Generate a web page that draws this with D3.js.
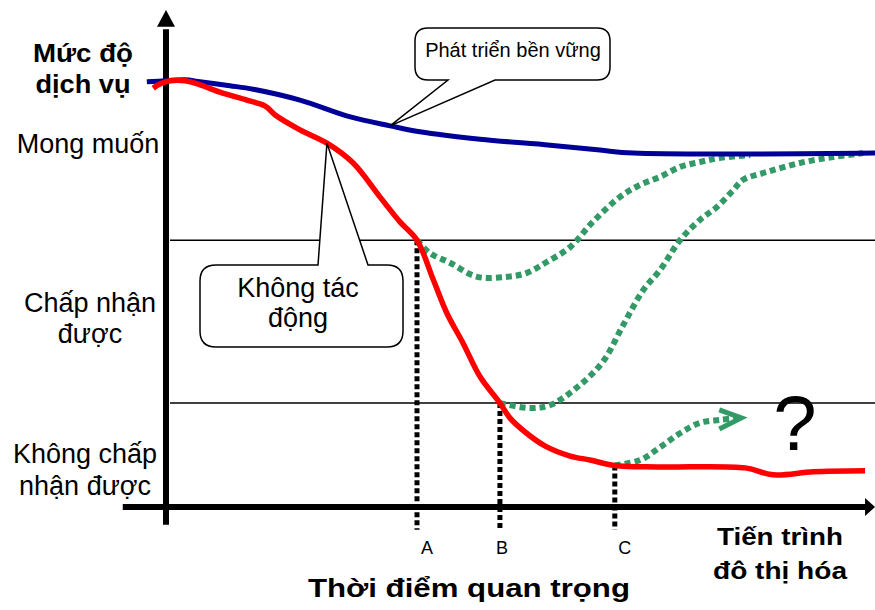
<!DOCTYPE html>
<html>
<head>
<meta charset="utf-8">
<script src="https://cdn.jsdelivr.net/npm/d3@7"></script>
<style>
  body { margin: 0; background: #fff; }
  svg { display: block; }
  text { font-family: "Liberation Sans", Arial, sans-serif; fill: #000; }
</style>
</head>
<body>
<svg id="chart" width="875" height="610"></svg>
<script>
// Urbanisation progress (x) and service level (y), both on a 0–100 scale.

// "Phát triển bền vững" – sustainable development path
const sustainableT = [-2.7, 0, 2.7, 4.8, 9.0, 12.3, 18.9, 26.0, 31.6, 35.8, 44.3, 54.2, 61.2, 65.9, 100];
const sustainableV = [85.9, 86.1, 86.3, 85.9, 85.1, 84.4, 82.2, 78.8, 77.0, 75.8, 74.3, 73.1, 72.1, 71.5, 71.5];

// "Không tác động" – no intervention path
const noActionT = [-1.8, -0.8, 0.6, 2.7, 4.8, 7.6, 11.4, 14.0, 15.4, 18.9, 22.7, 26.4, 30.2, 33.0, 35.4,
                   37.7, 39.6, 41.9, 44.3, 47.1, 48.5, 50.6, 53.5, 57.0, 59.8, 63.3, 69.7, 81.7, 85.6, 91.3, 98.6];
const noActionV = [84.6, 85.5, 86.1, 86.1, 85.3, 83.8, 82.2, 81.0, 79.2, 76.2, 73.5, 69.5, 62.6, 57.6, 53.9,
                   45.9, 39.2, 33.1, 26.3, 21.0, 18.0, 15.2, 12.3, 10.3, 9.5, 8.4, 8.1, 7.9, 6.5, 7.1, 7.3];

// Recovery paths after intervening at moments A, B and C
const recoveryAT = [35.4, 37.2, 40.1, 43.9, 48.1, 50.9, 53.7, 57.0, 60.2, 64.0, 66.9, 69.7, 72.5, 75.3, 78.1, 82.4];
const recoveryAV = [53.9, 51.3, 49.3, 46.5, 46.5, 47.3, 49.5, 52.5, 57.6, 62.6, 65.1, 66.7, 68.7, 69.7, 70.5, 71.1];

const recoveryBT = [47.1, 51.3, 54.2, 58.0, 61.6, 64.5, 67.3, 69.7, 72.5, 75.3, 77.7, 80.0, 81.4, 84.8, 89.4, 94.1, 98.3];
const recoveryBV = [21.0, 20.0, 20.6, 24.2, 29.3, 36.8, 43.8, 47.9, 53.9, 58.0, 60.6, 64.0, 66.1, 67.7, 69.5, 70.7, 71.5];

const recoveryCT = [63.3, 66.9, 69.7, 72.5, 75.3, 78.1, 81.0];
const recoveryCV = [8.4, 9.5, 12.1, 14.9, 17.0, 17.6, 18.0];

// Service-level thresholds: unacceptable / acceptable / desired
const thresholds = [21.0, 53.9];

// Critical moments
const eventLabels = ["A", "B", "C"];
const eventTimes  = [35.4, 47.1, 63.3];
const eventLevels = [53.9, 21.0, 8.4];

const zip = (ts, vs) => ts.map((t, i) => [t, vs[i]]);

const svg = d3.select("#chart");
const W = 875;

const x = d3.scaleLinear().domain([0, 100]).range([166, 875]);
const y = d3.scaleLinear().domain([0, 100]).range([507, 12]);

const line = d3.line()
  .x(d => x(d[0]))
  .y(d => y(d[1]))
  .curve(d3.curveCatmullRom.alpha(0.5));

// Threshold guide lines
svg.append("g").selectAll("line").data(thresholds).join("line")
  .attr("x1", x(0) + 4).attr("x2", W)
  .attr("y1", d => y(d)).attr("y2", d => y(d))
  .attr("stroke", "#000").attr("stroke-width", 1.6);

// Drop lines at the critical moments
svg.append("g").selectAll("line").data(eventTimes).join("line")
  .attr("x1", d => x(d)).attr("x2", d => x(d))
  .attr("y1", (d, i) => y(eventLevels[i]))
  .attr("y2", y(-4.6))
  .attr("stroke", "#000").attr("stroke-width", 5)
  .attr("stroke-dasharray", "5 3");

// Axes with arrowheads
const x0 = x(0), y0 = y(0);
svg.append("line").attr("x1", x0).attr("x2", x0)
  .attr("y1", y(-3.6)).attr("y2", y(96.5))
  .attr("stroke", "#000").attr("stroke-width", 6);
svg.append("path")
  .attr("d", `M${x0},${y(100.4)} L${x0 + 9},${y(97)} L${x0 - 9},${y(97)} Z`)
  .attr("fill", "#000");
svg.append("line").attr("x1", x(-6.1)).attr("x2", x(98.8))
  .attr("y1", y0).attr("y2", y0)
  .attr("stroke", "#000").attr("stroke-width", 6);
svg.append("path")
  .attr("d", `M${x(100)},${y0} L${x(98.6)},${y0 - 9} L${x(98.6)},${y0 + 9} Z`)
  .attr("fill", "#000");

// Recovery curves (dotted green)
const green = "#339966";
[zip(recoveryAT, recoveryAV), zip(recoveryBT, recoveryBV), zip(recoveryCT, recoveryCV)].forEach(pts => {
  svg.append("path").attr("d", line(pts))
    .attr("fill", "none").attr("stroke", green)
    .attr("stroke-width", 6).attr("stroke-dasharray", "6 4");
});
// Open arrowhead at the end of the C recovery path
const cEnd = [recoveryCT[recoveryCT.length - 1], recoveryCV[recoveryCV.length - 1]];
svg.append("path")
  .attr("d", `M${x(cEnd[0]) - 21},${y(cEnd[1]) - 8} L${x(cEnd[0]) + 1},${y(cEnd[1])} L${x(cEnd[0]) - 21},${y(cEnd[1]) + 11}`)
  .attr("fill", "none").attr("stroke", green).attr("stroke-width", 5);

// Sustainable path (blue) and no-action path (red)
svg.append("path").attr("d", line(zip(sustainableT, sustainableV)))
  .attr("fill", "none").attr("stroke", "#000099").attr("stroke-width", 5);
svg.append("path").attr("d", line(zip(noActionT, noActionV)))
  .attr("fill", "none").attr("stroke", "#ff0000").attr("stroke-width", 5.5);

// Callout shapes: rounded box with a wedge pointing to a curve point
function callout(bx0, by0, bx1, by1, r, side, w0, w1, tx, ty) {
  const p = d3.path();
  p.moveTo(bx0 + r, by0);
  if (side === "top") { p.lineTo(w0, by0); p.lineTo(tx, ty); p.lineTo(w1, by0); }
  p.lineTo(bx1 - r, by0);
  p.quadraticCurveTo(bx1, by0, bx1, by0 + r);
  p.lineTo(bx1, by1 - r);
  p.quadraticCurveTo(bx1, by1, bx1 - r, by1);
  if (side === "bottom") { p.lineTo(w1, by1); p.lineTo(tx, ty); p.lineTo(w0, by1); }
  p.lineTo(bx0 + r, by1);
  p.quadraticCurveTo(bx0, by1, bx0, by1 - r);
  p.lineTo(bx0, by0 + r);
  p.quadraticCurveTo(bx0, by0, bx0 + r, by0);
  p.closePath();
  return p.toString();
}

svg.append("path")
  .attr("d", callout(415, 28, 610, 80, 13, "bottom", 448, 495, x(sustainableT[8]), y(sustainableV[8])))
  .attr("fill", "#fff").attr("stroke", "#000").attr("stroke-width", 1.5);
svg.append("text").attr("x", 513).attr("y", 57).attr("text-anchor", "middle")
  .attr("font-size", 20).text("Phát triển bền vững");

svg.append("path")
  .attr("d", callout(200, 265, 403, 347, 16, "top", 318, 368, x(noActionT[10]), y(noActionV[10])))
  .attr("fill", "#fff").attr("stroke", "#000").attr("stroke-width", 1.5);
svg.append("text").attr("x", 298).attr("y", 297).attr("text-anchor", "middle")
  .attr("font-size", 27).text("Không tác");
svg.append("text").attr("x", 298).attr("y", 327).attr("text-anchor", "middle")
  .attr("font-size", 27).text("động");

// Critical-moment labels
const labelDx = [10, 2, 10];
svg.append("g").selectAll("text").data(eventLabels).join("text")
  .attr("x", (d, i) => x(eventTimes[i]) + labelDx[i])
  .attr("y", 554).attr("text-anchor", "middle")
  .attr("font-size", 18).text(d => d);

// Question mark beyond the C recovery
svg.append("text").attr("x", x(88.7)).attr("y", 450).attr("text-anchor", "middle")
  .attr("font-size", 78).text("?");

// Level labels along the y axis
function textLines(lines, cx, baselines, size, bold, lengths) {
  lines.forEach((s, i) => {
    const t = svg.append("text").attr("x", cx).attr("y", baselines[i])
      .attr("text-anchor", "middle").attr("font-size", size)
      .attr("font-weight", bold ? "bold" : "normal").text(s);
    if (lengths) t.attr("textLength", lengths[i]).attr("lengthAdjust", "spacingAndGlyphs");
  });
}
textLines(["Mức độ", "dịch vụ"], 83, [62, 93], 26, true, [100, 95]);
textLines(["Mong muốn"], 88, [153], 27, false);
textLines(["Chấp nhận", "được"], 90, [312, 343], 27, false);
textLines(["Không chấp", "nhận được"], 85, [463, 495], 27, false);

// Axis titles
textLines(["Tiến trình", "đô thị hóa"], 780, [545, 579], 24, true, [126, 134]);
textLines(["Thời điểm quan trọng"], 469, [597], 25, true, [322]);
</script>
</body>
</html>
